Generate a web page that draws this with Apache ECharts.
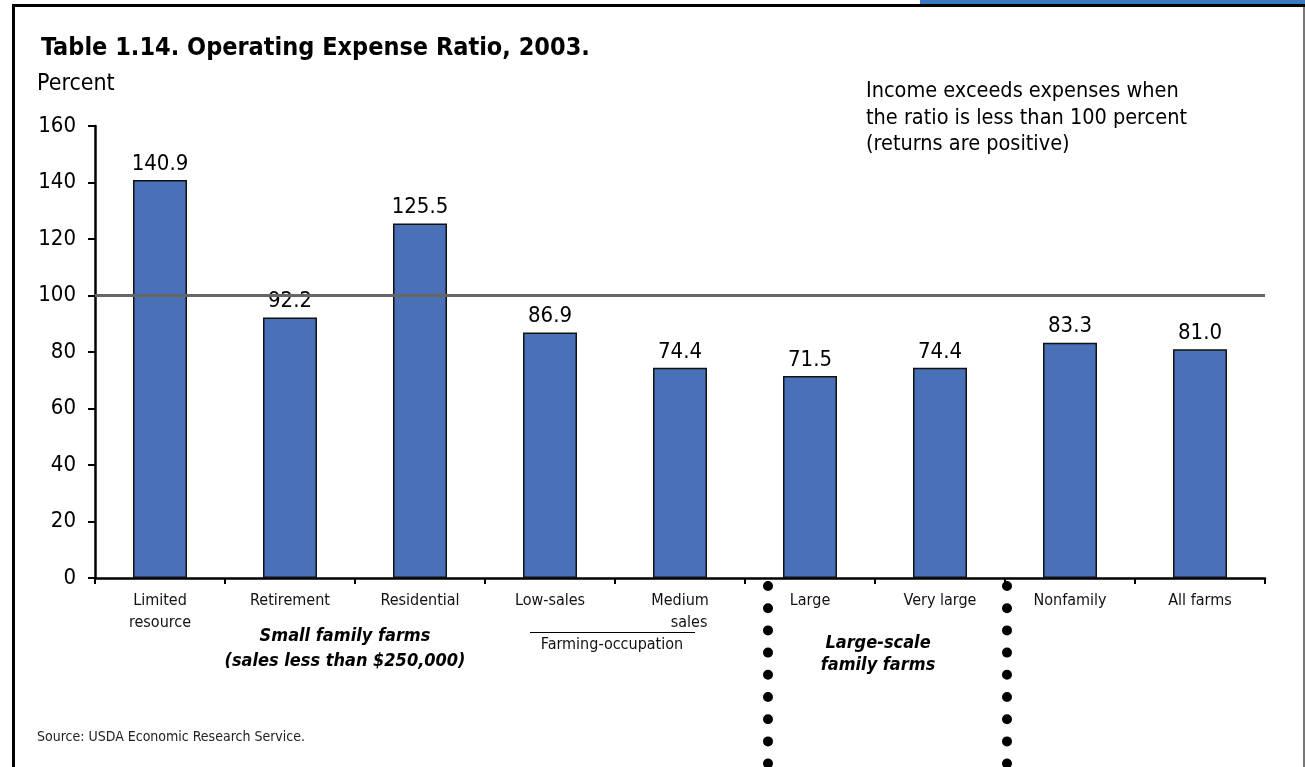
<!DOCTYPE html>
<html>
<head>
<meta charset="utf-8">
<script src="https://cdn.jsdelivr.net/npm/echarts@6/dist/echarts.min.js"></script>
<style>
html,body{margin:0;padding:0;background:#fff;}
#chart{width:1305px;height:767px;}
</style>
</head>
<body>
<div id="chart"></div>
<script>
const categories = ["Limited\nresource", "Retirement", "Residential", "Low-sales", "Medium\n    sales", "Large", "Very large", "Nonfamily", "All farms"];
const values = [140.9, 92.2, 125.5, 86.9, 74.4, 71.5, 74.4, 83.3, 81.0];
const yTicks = [0, 20, 40, 60, 80, 100, 120, 140, 160];
const referenceValue = 100;

const FONT = "'Liberation Sans Narrow', 'DejaVu Sans Condensed', 'Roboto Condensed', sans-serif";

const chart = echarts.init(document.getElementById('chart'), null, {renderer: 'canvas'});

const option = {
  backgroundColor: '#ffffff',
  animation: false,
  textStyle: {fontFamily: FONT},
  title: {
    text: 'Table 1.14. Operating Expense Ratio, 2003.',
    left: 36, top: 31,
    textStyle: {fontFamily: FONT, fontSize: 25, fontWeight: 'bold', color: '#000'}
  },
  grid: {left: 95, right: 40, top: 126, bottom: 189, containLabel: false, outerBoundsMode: 'none'},
  xAxis: {
    type: 'category',
    data: categories,
    axisLine: {lineStyle: {color: '#000', width: 2.5}},
    axisTick: {show: true, alignWithLabel: false, length: 6, lineStyle: {color: '#000', width: 2}},
    axisLabel: {fontFamily: FONT, fontSize: 16, color: '#111', margin: 12, lineHeight: 22, interval: 0}
  },
  yAxis: {
    type: 'value',
    min: yTicks[0], max: yTicks[yTicks.length - 1], interval: yTicks[1] - yTicks[0],
    axisLine: {show: true, lineStyle: {color: '#000', width: 2.5}},
    axisTick: {show: true, length: 7, lineStyle: {color: '#000', width: 2}},
    axisLabel: {fontFamily: FONT, fontSize: 22, color: '#000', margin: 19},
    splitLine: {show: false}
  },
  series: [{
    type: 'bar',
    data: values,
    barWidth: 54,
    itemStyle: {color: '#4a71b7', borderColor: '#111', borderWidth: 1.5},
    label: {show: true, position: 'top', distance: 5, fontFamily: FONT, fontSize: 22, color: '#000',
      formatter: p => p.value.toFixed(1)},
    markLine: {
      silent: true, symbol: 'none',
      label: {show: false},
      lineStyle: {color: '#666', width: 3, type: 'solid'},
      data: [{yAxis: referenceValue}]
    },
    z: 3
  }]
};
chart.setOption(option);

// decorations positioned from axis scales
const c = i => chart.convertToPixel({xAxisIndex: 0}, categories[i]);
const band = c(1) - c(0);
const sep1 = c(4) + band / 2 + 23;
const sep2 = c(6) + band / 2 + 2;
const dotted = x => ({
  type: 'line', shape: {x1: x, y1: 586, x2: x, y2: 764},
  style: {stroke: '#000', lineWidth: 10, lineCap: 'round', lineDash: [0, 22.2]}
});
const txt = (text, x, y, size, extra) => Object.assign({
  type: 'text', x: x, y: y,
  style: Object.assign({text: text, fontFamily: FONT, fontSize: size, fill: '#000', align: 'left', verticalAlign: 'middle'}, extra || {})
});
const smallMid = (c(1) + c(2)) / 2 - 10;
const farmMid = (c(3) + c(4)) / 2 - 3;
const largeMid = (c(5) + c(6)) / 2 + 3;

chart.setOption({
  graphic: [
    {type: 'rect', shape: {x: 920, y: 0, width: 385, height: 4}, style: {fill: '#3a7bbf'}},
    {type: 'rect', shape: {x: 12, y: 4, width: 1293, height: 3}, style: {fill: '#000'}},
    {type: 'rect', shape: {x: 12, y: 4, width: 3, height: 763}, style: {fill: '#000'}},
    {type: 'rect', shape: {x: 1303, y: 7, width: 2, height: 760}, style: {fill: '#777'}},
    txt('Percent', 37, 84, 23),
    txt('Income exceeds expenses when\nthe ratio is less than 100 percent\n(returns are positive)', 866, 118, 21.5, {lineHeight: 26.5}),
    txt('Small family farms\n(sales less than $250,000)', smallMid, 649, 18, {align: 'center', fontWeight: 'bold', fontStyle: 'italic', lineHeight: 25}),
    {type: 'line', shape: {x1: 530, y1: 632.5, x2: 695, y2: 632.5}, style: {stroke: '#000', lineWidth: 1}},
    txt('Farming-occupation', farmMid, 645, 16, {align: 'center', fill: '#111'}),
    txt('Large-scale\nfamily farms', largeMid, 654, 18, {align: 'center', fontWeight: 'bold', fontStyle: 'italic', lineHeight: 22}),
    txt('Source: USDA Economic Research Service.', 37, 737, 14, {fill: '#222'}),
    dotted(sep1),
    dotted(sep2)
  ]
});
</script>
</body>
</html>
